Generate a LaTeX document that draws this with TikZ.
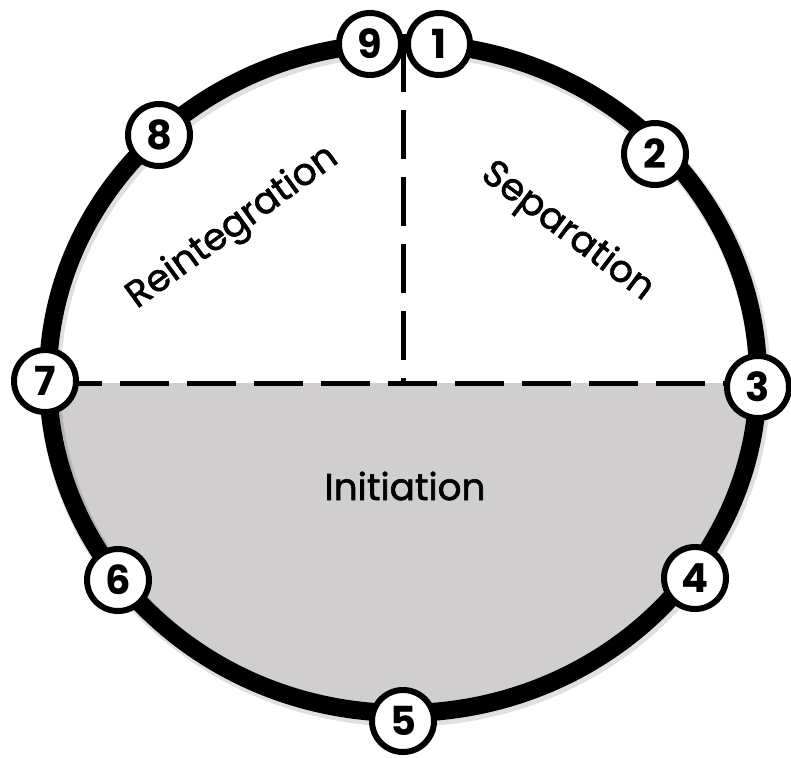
\documentclass[tikz,border=0pt]{standalone}
\usepackage{fontspec}
\setmainfont{Poppins}
\newfontfamily\medfont{Poppins}[FakeBold=1.6]
\definecolor{initgray}{RGB}{208,206,206}
\begin{document}
\begin{tikzpicture}[x=0.75pt,y=-0.75pt,
  num/.style={circle, draw=black, line width=4.5pt, fill=white, minimum size=46.5pt, inner sep=0pt,
    font=\fontsize{30}{30}\selectfont\bfseries},
  phase/.style={font=\fontsize{28}{28}\selectfont\medfont, text=black},
  ring/.style={draw=black, line width=13.5pt},
  dashline/.style={draw=black, line width=3.75pt, dash pattern=on 36.75pt off 13.5pt}]
\useasboundingbox (0,0) rectangle (791,757);
% fill lower part
\begin{scope}
  \clip (403,378) ellipse [x radius=266.25pt, y radius=251.25pt];
  \fill[initgray] (0,383) rectangle (791,757);
\end{scope}
% dashed dividers
\coordinate (top) at (403,43);
\coordinate (mid) at (403,383);
\coordinate (left) at (53,383);
\coordinate (right) at (752,383);
\draw[dashline] (top) -- (mid);
\draw[dashline] (left) -- (right);
% shadow + ring
\draw[black, opacity=0.12, line width=16pt] (405,381) ellipse [x radius=266.25pt, y radius=251.25pt];
\draw[ring] (403,378) ellipse [x radius=266.25pt, y radius=251.25pt];
% phase labels
\node[phase] (init) at (405,486) {Initiation};
\node[phase, rotate=36] (reint) at (233,228) {Reintegration};
\node[phase, rotate=-37] (sep) at (567,232) {Separation};
% numbered circles
\node[num] (n9) at (370,44) {9};
\node[num] (n1) at (439,44) {1};
\node[num] (n2) at (655,154) {2};
\node[num] (n3) at (758,387) {3};
\node[num] (n4) at (695,578) {4};
\node[num] (n5) at (403,721) {5};
\node[num] (n6) at (118,580) {6};
\node[num] (n7) at (45,381) {7};
\node[num] (n8) at (159,135) {8};
\end{tikzpicture}
\end{document}
